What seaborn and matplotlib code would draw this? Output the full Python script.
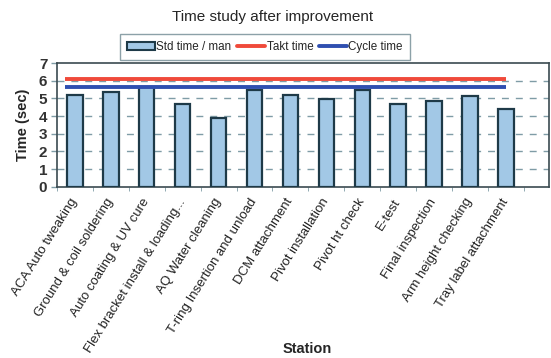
import matplotlib
matplotlib.use("Agg")
import matplotlib.pyplot as plt
import matplotlib.patches as mpatches
import matplotlib.transforms as mtransforms
from matplotlib.lines import Line2D
import seaborn as sns
import pandas as pd

stations = ["ACA Auto tweaking", "Ground & coil soldering", "Auto coating & UV cure",
            "Flex bracket install & loading...", "AQ Water cleaning",
            "T-ring Insertion and unload", "DCM attachment", "Pivot installation",
            "Pivot ht check", "E-test", "Final inspection", "Arm height checking",
            "Tray label attachment"]
std_time = [5.22, 5.37, 5.65, 4.66, 3.88, 5.50, 5.20, 4.96, 5.50, 4.66, 4.85, 5.13, 4.42]
takt_time = 6.1
cycle_time = 5.63
y_ticks = [0, 1, 2, 3, 4, 5, 6, 7]

df = pd.DataFrame({"Station": stations, "Time": std_time})

sns.set_style("white")
plt.rcParams['font.family'] = ['Liberation Sans', 'DejaVu Sans']

bar_fill = '#a2c8e6'
bar_edge = '#1e3a48'
grid_col = '#7f9ca6'
frame_col = '#3b4a50'

fig = plt.figure(figsize=(5.51, 3.58), dpi=100)
ax = fig.add_axes([0.1034, 0.478, 0.893, 0.346])

sns.barplot(data=df, x="Station", y="Time", color=bar_fill, edgecolor=bar_edge,
            linewidth=1.6, width=0.43, saturation=1, ax=ax, zorder=3)

n = len(stations)
ax.hlines(takt_time, -0.28, n - 1, color='#f04a3a', lw=2.8, zorder=4)
ax.hlines(cycle_time, -0.28, n - 1, color='#2f4fb0', lw=2.8, zorder=4)

ax.set_xlim(-0.45, 13.2)
ax.set_ylim(0, 7)
ax.set_yticks(y_ticks)
ax.set_yticklabels([str(t) for t in y_ticks], fontsize=11, fontweight='bold', color='#333333')
for t in y_ticks[1:-1]:
    ax.axhline(t, color=grid_col, lw=1.0, ls=(0, (5, 5)), zorder=1)

ax.set_xticks(range(n))
ax.set_xticklabels(stations, rotation=58, ha='right', va='center', rotation_mode='anchor',
                   fontsize=9.5, color='#222222')
shift = mtransforms.ScaledTranslation(6 / 72, 0, fig.dpi_scale_trans)
for lab in ax.get_xticklabels():
    lab.set_transform(lab.get_transform() + shift)
ax.tick_params(axis='x', length=0, pad=9)
ax.tick_params(axis='y', length=4, color=grid_col, width=1, pad=3, left=True)
# small ticks between categories
ax.set_xticks([i + 0.5 for i in range(-1, n)], minor=True)
ax.tick_params(axis='x', which='minor', length=3, color=grid_col, bottom=True)

for s in ax.spines.values():
    s.set_color(frame_col)
    s.set_linewidth(1.2)

ax.set_xlabel("Station", fontsize=10.5, fontweight='bold')
ax.xaxis.set_label_coords(0.508, -1.25)
ax.set_ylabel("Time (sec)", fontsize=10.5, fontweight='bold', labelpad=6)

fig.text(0.494, 0.952, "Time study after improvement", ha='center', va='center', fontsize=11)

handles = [
    mpatches.Patch(facecolor=bar_fill, edgecolor=bar_edge, linewidth=1.5, label='Std time / man'),
    Line2D([0], [0], color='#f04a3a', lw=2.8, label='Takt time'),
    Line2D([0], [0], color='#2f4fb0', lw=2.8, label='Cycle time'),
]
leg = fig.legend(handles=handles, loc='center', bbox_to_anchor=(0.481, 0.868), ncol=3,
                 fontsize=8.4, frameon=True, fancybox=False, handlelength=2.4,
                 handleheight=0.6, handletextpad=0.1, columnspacing=0.5,
                 borderpad=0.6, edgecolor='#6f8a92')
leg.get_frame().set_linewidth(1.0)

fig.savefig("out.png", dpi=100)
